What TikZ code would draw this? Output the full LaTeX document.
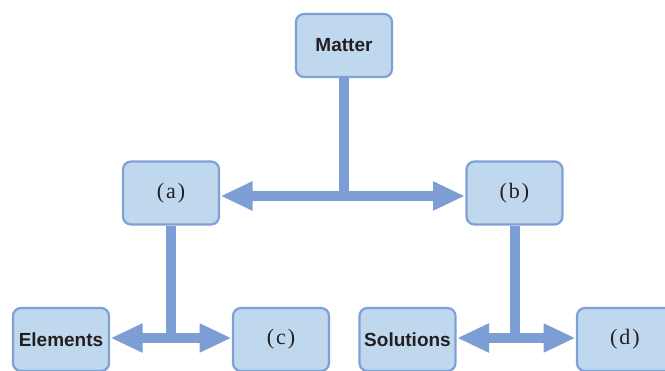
\documentclass[tikz,border=0pt]{standalone}
\usepackage{fontspec}
\setmainfont{Liberation Serif}
\setsansfont{Liberation Sans}
\usetikzlibrary{arrows.meta}
\definecolor{boxfill}{RGB}{192,216,237}
\definecolor{boxline}{RGB}{127,160,213}
\definecolor{linkcol}{RGB}{124,158,212}
\definecolor{ink}{RGB}{35,31,32}

\begin{document}
\begin{tikzpicture}[x=1pt,y=-1pt,
  main node/.style={rectangle,rounded corners=8pt,draw=boxline,line width=2.2pt,fill=boxfill,
    minimum width=96pt,minimum height=63pt,inner sep=0.,outer sep=1.5pt,text=ink},
  term node/.style={main node,font=\sffamily\bfseries\fontsize{19}{21}\selectfont},
  blank node/.style={main node,font=\fontsize{22}{24}\selectfont},
  link/.style={draw=linkcol,line width=10pt},
  twoway/.style={{Triangle[length=32pt,width=27pt]}-{Triangle[length=32pt,width=27pt]}}]%
  \useasboundingbox (0., 0.) rectangle (665., 371.);
  \node[term node] (matter) at (344., 45.5) {Matter};
  \node[blank node] (a) at (171., 193.) {(\kern2pt a\kern2pt)};
  \node[blank node] (b) at (514.5, 193.) {(\kern2pt b\kern2pt)};
  \node[term node] (elements) at (61., 339.5) {Elements};
  \node[blank node] (c) at (281., 339.5) {(\kern2pt c\kern2pt)};
  \node[term node] (solutions) at (407.5, 339.5) {Solutions};
  \node[blank node] (d) at (625., 339.5) {(\kern2pt d\kern2pt)};
  % stems
  \draw[link] (matter.south) -- ([yshift=-8pt]matter.south |- a.east);
  \draw[link] (a.south) -- ([yshift=-4pt]a.south |- c.west);
  \draw[link] (b.south) -- ([yshift=-4pt]b.south |- d.west);
  % arrows
  \draw[link,twoway] ([yshift=-3pt]a.east) -- ([yshift=-3pt]b.west);
  \draw[link,twoway] ([yshift=1.5pt]elements.east) -- ([yshift=1.5pt]c.west);
  \draw[link,twoway] ([yshift=1.5pt]solutions.east) -- ([yshift=1.5pt]d.west);
\end{tikzpicture}
\end{document}
